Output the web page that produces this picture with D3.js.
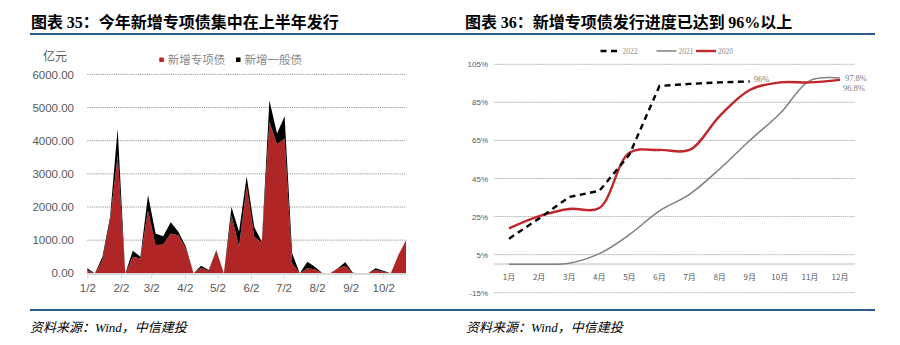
<!DOCTYPE html>
<html><head><meta charset="utf-8">
<script src="https://cdn.jsdelivr.net/npm/d3@7"></script>
<style>
html,body{margin:0;padding:0;background:#fff;}
svg{display:block;}
</style></head>
<body>
<svg id="c" width="900" height="345"></svg>
<script>
// ---------- Left chart data (weekly, 亿元) ----------
const weekDates = ["2022-01-02","2022-01-09","2022-01-16","2022-01-23","2022-01-30","2022-02-06","2022-02-13","2022-02-20","2022-02-27","2022-03-06","2022-03-13","2022-03-20","2022-03-27","2022-04-03","2022-04-10","2022-04-17","2022-04-24","2022-05-01","2022-05-08","2022-05-15","2022-05-22","2022-05-29","2022-06-05","2022-06-12","2022-06-19","2022-06-26","2022-07-03","2022-07-10","2022-07-17","2022-07-24","2022-07-31","2022-08-07","2022-08-14","2022-08-21","2022-08-28","2022-09-04","2022-09-11","2022-09-18","2022-09-25","2022-10-02","2022-10-09","2022-10-16","2022-10-23"];
const specialBond = [100,0,400,1600,3560,0,500,450,1900,850,870,1200,1150,750,0,170,70,680,0,1750,800,2630,1100,920,4570,3900,4070,300,0,150,120,0,0,150,230,0,0,0,100,50,0,550,1000];
const generalBond = [50,0,100,100,810,0,180,50,460,350,250,340,100,50,0,60,30,20,0,250,450,300,300,30,650,320,670,300,0,200,80,0,0,0,100,20,0,0,50,30,0,0,0];
const leftYTicks = [0,1000,2000,3000,4000,5000,6000];
const leftXTickDates = ["2022-01-02","2022-02-02","2022-03-02","2022-04-02","2022-05-02","2022-06-02","2022-07-02","2022-08-02","2022-09-02","2022-10-02"];
const leftXTickLabels = ["1/2","2/2","3/2","4/2","5/2","6/2","7/2","8/2","9/2","10/2"];
const leftSeriesNames = ["新增专项债","新增一般债"];

// ---------- Right chart data (%) ----------
const months = ["1月","2月","3月","4月","5月","6月","7月","8月","9月","10月","11月","12月"];
const progress2022 = [13.4,24,35.3,38.5,57.5,93.6,94.7,95.5,96];
const progress2021 = [0,0,0.5,5.5,15.5,28,36.7,50,65,79,96.4,97.8];
const progress2020 = [18.8,25.2,29,29.5,58.5,60,60,77.8,91.5,95.5,95.5,96.8];
const rightYTicks = [-15,5,25,45,65,85,105];
const rightSeriesNames = ["2022","2021","2020"];

const svg = d3.select("#c");
const CJK = "'Noto Sans CJK SC', sans-serif";
const BLUE = "#2a5a8c";

// ---------- Titles, rules, footers ----------
function title(x, num, rest){
  const t = svg.append("text").attr("x",x).attr("y",28).attr("font-size",16).attr("font-weight",700)
    .attr("font-family",CJK).attr("fill","#000");
  t.append("tspan").text("图表 ");
  t.append("tspan").attr("font-family","'Liberation Serif', serif").text(num);
  t.append("tspan").text("：" + rest[0]);
  if (rest[1]) {
    t.append("tspan").attr("font-family","'Liberation Serif', serif").text(rest[1]);
    t.append("tspan").text(rest[2]);
  }
}
title(31, "35", ["今年新增专项债集中在上半年发行"]);
title(465, "36", ["新增专项债发行进度已达到 ","96%","以上"]);
svg.append("line").attr("x1",30).attr("x2",875).attr("y1",34).attr("y2",34).attr("stroke",BLUE).attr("stroke-width",2.2);
svg.append("line").attr("x1",30).attr("x2",875).attr("y1",310).attr("y2",310).attr("stroke",BLUE).attr("stroke-width",2.2);
[30,466].forEach(x=>{
  const t = svg.append("text").attr("x",x).attr("y",332).attr("font-size",13).attr("font-style","italic")
    .attr("font-family",CJK).attr("fill","#000");
  t.append("tspan").text("资料来源：");
  t.append("tspan").attr("font-family","'Liberation Serif', serif").text("Wind");
  t.append("tspan").text("，中信建投");
});

// ---------- Left chart ----------
(function(){
  const parse = d3.timeParse("%Y-%m-%d");
  const dates = weekDates.map(parse);
  const x = d3.scaleTime().domain([dates[0], dates[dates.length-1]]).range([87.3, 406]);
  const y = d3.scaleLinear().domain([0,6000]).range([273.3, 74.4]);
  const g = svg.append("g");

  g.selectAll("line.grid").data(leftYTicks.filter(d=>d>0)).join("line")
    .attr("x1",87.3).attr("x2",406).attr("y1",d=>y(d)).attr("y2",d=>y(d))
    .attr("stroke","#7a7a7a").attr("stroke-width",0.8).attr("stroke-dasharray","1.2,1");

  const rows = dates.map((d,i)=>({date:d, s:specialBond[i], g:generalBond[i]}));
  const stack = d3.stack().keys(["s","g"])(rows);
  const area = d3.area().x(d=>x(d.data.date)).y0(d=>y(d[0])).y1(d=>y(d[1]));
  const colors = ["#b02626","#000000"];
  g.selectAll("path.a").data(stack).join("path").attr("d",area).attr("fill",(d,i)=>colors[i]);

  g.append("line").attr("x1",87.3).attr("x2",406).attr("y1",y(0)+0.8).attr("y2",y(0)+0.8)
    .attr("stroke","#d9d9d9").attr("stroke-width",2);

  const xa = d3.axisBottom(x).tickValues(leftXTickDates.map(parse))
    .tickFormat((d,i)=>leftXTickLabels[i]).tickSize(4).tickSizeOuter(0);
  const ax = g.append("g").attr("transform",`translate(0,${y(0)+1.5})`).call(xa);
  ax.select(".domain").remove();
  ax.selectAll("line").attr("stroke","#d9d9d9");
  ax.selectAll("text").attr("font-family","'Liberation Sans', Arial, sans-serif").attr("font-size",11.5)
    .attr("fill","#595959").attr("dy","0.9em");

  const ya = d3.axisLeft(y).tickValues(leftYTicks).tickFormat(d3.format(".2f")).tickSize(0);
  const ay = g.append("g").attr("transform","translate(74,0)").call(ya);
  ay.select(".domain").remove();
  ay.selectAll("text").attr("font-family","'Liberation Sans', Arial, sans-serif").attr("font-size",11.5)
    .attr("fill","#595959").attr("x",0);

  svg.append("text").attr("x",43).attr("y",61).attr("font-size",12).attr("font-family",CJK)
    .attr("fill","#595959").text("亿元");

  const lx = [159.3, 236];
  leftSeriesNames.forEach((n,i)=>{
    svg.append("rect").attr("x",lx[i]).attr("y",57.5).attr("width",4.5).attr("height",4.5).attr("fill",colors[i]);
    svg.append("text").attr("x",lx[i]+8.5).attr("y",63.5).attr("font-size",11.5).attr("font-family",CJK)
      .attr("fill","#8a8a8a").text(n);
  });
})();

// ---------- Right chart ----------
(function(){
  const x = d3.scaleBand().domain(months).range([494, 855]);
  const cx = m => x(m) + x.bandwidth()/2;
  const y = d3.scaleLinear().domain([-15,105]).range([292.7, 64.3]);
  const g = svg.append("g");

  g.selectAll("line.grid").data(rightYTicks).join("line")
    .attr("x1",494).attr("x2",855).attr("y1",d=>y(d)).attr("y2",d=>y(d))
    .attr("stroke","#a6a6a6").attr("stroke-width",0.8).attr("stroke-dasharray","1.5,0.6");
  g.append("line").attr("x1",494).attr("x2",855).attr("y1",y(0)).attr("y2",y(0))
    .attr("stroke","#dedede").attr("stroke-width",2.2);

  const ya = d3.axisLeft(y).tickValues(rightYTicks).tickFormat(d=>d+"%").tickSize(0);
  const ay = g.append("g").attr("transform","translate(488,0)").call(ya);
  ay.select(".domain").remove();
  ay.selectAll("text").attr("font-family","'Liberation Sans', Arial, sans-serif").attr("font-size",8)
    .attr("fill","#595959").attr("x",0);

  const xa = d3.axisBottom(x).tickSize(0);
  const ax = g.append("g").attr("transform",`translate(0,${y(0)})`).call(xa);
  ax.select(".domain").remove();
  ax.selectAll("text").attr("font-family",CJK).attr("font-size",8).attr("fill","#595959").attr("dy","1.55em");

  const lineLin = d3.line().x((d,i)=>cx(months[i])).y(d=>y(d));
  const lineSm = d3.line().x((d,i)=>cx(months[i])).y(d=>y(d)).curve(d3.curveCatmullRom.alpha(0.5));

  g.append("path").attr("d",lineSm(progress2021)).attr("fill","none").attr("stroke","#7f7f7f").attr("stroke-width",1.5);
  g.append("path").attr("d",lineSm(progress2020)).attr("fill","none").attr("stroke","#c0272d").attr("stroke-width",2.4);
  g.append("path").attr("d",lineLin(progress2022)).attr("fill","none").attr("stroke","#000").attr("stroke-width",2.4)
    .attr("stroke-dasharray","6,4.5");

  const lab = (x0,y0,t)=>g.append("text").attr("x",x0).attr("y",y0).attr("font-size",8.5)
    .attr("font-family","'Liberation Serif', serif").attr("fill","#7a7a7a").text(t);
  const i22 = progress2022.length-1;
  lab(cx(months[i22])+4, y(progress2022[i22])+1, progress2022[i22]+"%");
  lab(cx(months[11])+5, y(progress2021[11])+3, progress2021[11].toFixed(1)+"%");
  lab(cx(months[11])+3, y(progress2020[11])+11, progress2020[11].toFixed(1)+"%");

  const items = [
    {x:600.5, stroke:"#000", w:2.4, dash:"6,4.5"},
    {x:656.5, stroke:"#7f7f7f", w:1.5, dash:null},
    {x:696, stroke:"#c0272d", w:2.4, dash:null}
  ];
  items.forEach((it,i)=>{
    const l = svg.append("line").attr("x1",it.x).attr("x2",it.x+20).attr("y1",51).attr("y2",51)
      .attr("stroke",it.stroke).attr("stroke-width",it.w);
    if (it.dash) l.attr("stroke-dasharray",it.dash);
    svg.append("text").attr("x",it.x+22).attr("y",54).attr("font-size",7.5)
      .attr("font-family","'Liberation Serif', serif").attr("fill","#8a8a8a").text(rightSeriesNames[i]);
  });
})();
</script>
</body></html>
